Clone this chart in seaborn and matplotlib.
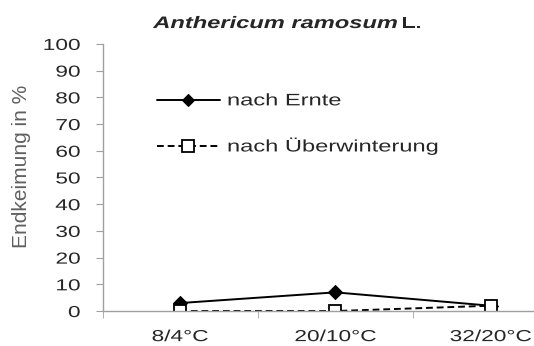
import matplotlib
matplotlib.use("Agg")
import matplotlib.pyplot as plt
import seaborn as sns
import pandas as pd
from matplotlib.patheffects import AbstractPathEffect
from matplotlib.transforms import Affine2D

sns.set_style("white")
plt.rcParams['font.family'] = ['Liberation Sans', 'DejaVu Sans']

# data
categories = ['8/4°C', '20/10°C', '32/20°C']
nach_ernte = [3, 7, 2]
nach_ueberwinterung = [0, 0, 2]

df = pd.DataFrame({'pos': range(len(categories)),
                   'ernte': nach_ernte,
                   'ueber': nach_ueberwinterung})


# the original text looks stretched sideways, widen glyphs a bit
class StretchX(AbstractPathEffect):
    def __init__(self, sx=1.4, ha='left'):
        super().__init__()
        self.sx = sx
        self.ha = ha

    def draw_path(self, renderer, gc, tpath, affine, rgbFace=None):
        w = tpath.get_extents().x1
        k = {'left': 0.0, 'center': -0.5, 'right': -1.0}[self.ha]
        t = Affine2D().scale(self.sx, 1).translate(k * (self.sx - 1) * w, 0) + affine
        renderer.draw_path(gc, tpath, t, rgbFace)


SX = 1.42
grey = '#a0a0a0'

fig = plt.figure(figsize=(5.34, 3.46), dpi=100)
ax = fig.add_axes([0.192, 0.101, 0.808, 0.772])

sns.lineplot(data=df, x='pos', y='ernte', ax=ax, color='black', linewidth=1.4,
             marker='D', markersize=7, markerfacecolor='black', markeredgecolor='black',
             label='nach Ernte')
sns.lineplot(data=df, x='pos', y='ueber', ax=ax, color='black', linewidth=1.4,
             linestyle=(0, (3.5, 2)), marker='s', markersize=8.5, markerfacecolor='white',
             markeredgecolor='black', markeredgewidth=1.3, label='nach Überwinterung')

ax.set_xlim(-0.5, 2.28)
ax.set_ylim(0, 100)
ax.set_yticks(range(0, 101, 10))
ax.set_xticks(range(len(categories)))
ax.set_xticklabels(categories)
ax.set_xticks([-0.5, 0.5, 1.5], minor=True)
ax.tick_params(axis='x', which='major', length=0, labelsize=11.5, pad=13)
ax.tick_params(axis='x', which='minor', length=5, color=grey, direction='out')
ax.tick_params(axis='y', length=5, color=grey, direction='out', labelsize=11.5, pad=11)
ax.xaxis.set_ticks_position('bottom')
ax.yaxis.set_ticks_position('left')

for s in ['top', 'right']:
    ax.spines[s].set_visible(False)
for s in ['left', 'bottom']:
    ax.spines[s].set_color(grey)
    ax.spines[s].set_linewidth(1.0)

ax.set_xlabel('')
ax.set_ylabel('')
fig.text(0.041, 0.518, 'Endkeimung in %', fontsize=15, color='#606060',
         rotation=90, ha='center', va='center')

for lab in ax.get_yticklabels():
    lab.set_path_effects([StretchX(SX, 'right')])
for lab in ax.get_xticklabels():
    lab.set_path_effects([StretchX(SX, 'center')])

fig.text(397 / 534, 0.919, 'Anthericum ramosum', fontsize=12, fontweight='bold',
         style='italic', ha='right', va='baseline',
         path_effects=[StretchX(SX, 'right')])
fig.text(401 / 534, 0.919, 'L.', fontsize=12, fontweight='bold', ha='left',
         va='baseline', path_effects=[StretchX(SX, 'left')])

leg = ax.legend(loc='upper left', bbox_to_anchor=(0.11, 0.84), frameon=False,
                fontsize=12, handlelength=3.8, handletextpad=0.42, labelspacing=1.75,
                borderaxespad=0)
for t in leg.get_texts():
    t.set_path_effects([StretchX(SX, 'left')])
handles = leg.legend_handles
handles[0].set_markersize(6)
handles[1].set_markersize(8)

fig.savefig('out.png', dpi=100)
